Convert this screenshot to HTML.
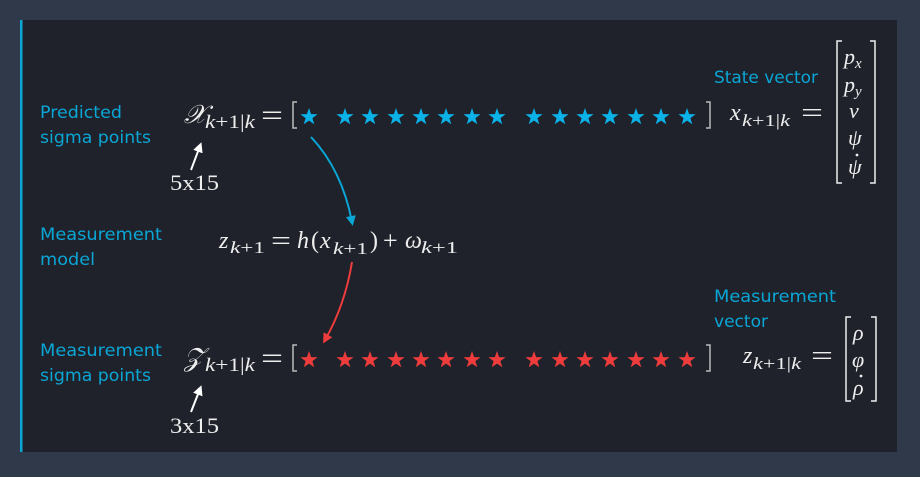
<!DOCTYPE html>
<html><head><meta charset="utf-8"><style>
html,body{margin:0;padding:0;background:#2f3949;}
svg{display:block}
.lab{font-family:"DejaVu Sans","Liberation Sans",sans-serif;fill:#0aa6d6;font-size:17px}
.m{font-family:"Liberation Serif",serif;fill:#eee;font-style:italic}
.r{font-family:"Liberation Serif",serif;fill:#eee}
</style></head><body>
<svg width="920" height="477" viewBox="0 0 920 477" xmlns="http://www.w3.org/2000/svg">
<rect x="0" y="0" width="920" height="477" fill="#2f3949"/>
<rect x="20" y="20" width="877" height="432" fill="#1f222a"/>
<rect x="20" y="20" width="2.5" height="432" fill="#0aa6d6"/>
<defs>
<polygon id="st" points="0,-9 2.1,-2.9 8.6,-2.8 3.4,1.1 5.3,7.3 0,3.6 -5.3,7.3 -3.4,1.1 -8.6,-2.8 -2.1,-2.9"/>
<marker id="ab" markerWidth="10" markerHeight="10" refX="6" refY="5" orient="auto" markerUnits="userSpaceOnUse"><path d="M0,0 L10,5 L0,10 z" fill="#0aa6d6"/></marker>
<marker id="ar" markerWidth="10" markerHeight="10" refX="6" refY="5" orient="auto" markerUnits="userSpaceOnUse"><path d="M0,0 L10,5 L0,10 z" fill="#ee3c3c"/></marker>
<marker id="aw" markerWidth="10" markerHeight="10" refX="6" refY="5" orient="auto" markerUnits="userSpaceOnUse"><path d="M0,0 L10,5 L0,10 z" fill="#fff"/></marker>
</defs>
<!-- labels -->
<text class="lab" x="40" y="118" textLength="82" lengthAdjust="spacingAndGlyphs">Predicted</text>
<text class="lab" x="40" y="143" textLength="111" lengthAdjust="spacingAndGlyphs">sigma points</text>
<text class="lab" x="40" y="240" textLength="122" lengthAdjust="spacingAndGlyphs">Measurement</text>
<text class="lab" x="40" y="265" textLength="55" lengthAdjust="spacingAndGlyphs">model</text>
<text class="lab" x="40" y="356" textLength="122" lengthAdjust="spacingAndGlyphs">Measurement</text>
<text class="lab" x="40" y="381" textLength="111" lengthAdjust="spacingAndGlyphs">sigma points</text>
<text class="lab" x="714" y="83" textLength="104" lengthAdjust="spacingAndGlyphs">State vector</text>
<text class="lab" x="714" y="302" textLength="122" lengthAdjust="spacingAndGlyphs">Measurement</text>
<text class="lab" x="714" y="327" textLength="54" lengthAdjust="spacingAndGlyphs">vector</text>
<!-- row 1 -->
<text class="m" x="184" y="123" font-size="26">𝒳</text>
<text class="m" x="205" y="128" font-size="19" textLength="50" lengthAdjust="spacingAndGlyphs">k<tspan class="r" font-style="normal">+1|</tspan>k</text>
<text class="r" x="261" y="125" font-size="30" textLength="22" lengthAdjust="spacingAndGlyphs">=</text>
<path d="M297,102 h-4 v26 h4" stroke="#bbb" stroke-width="1.5" fill="none"/>
<path d="M706,102 h4 v26 h-4" stroke="#bbb" stroke-width="1.5" fill="none"/>
<g fill="#0ab2e8">
<use href="#st" x="309" y="117"/>
<use href="#st" x="345" y="117"/><use href="#st" x="370" y="117"/><use href="#st" x="396" y="117"/><use href="#st" x="421" y="117"/><use href="#st" x="446" y="117"/><use href="#st" x="472" y="117"/><use href="#st" x="497" y="117"/>
<use href="#st" x="534" y="117"/><use href="#st" x="560" y="117"/><use href="#st" x="585" y="117"/><use href="#st" x="610" y="117"/><use href="#st" x="636" y="117"/><use href="#st" x="661" y="117"/><use href="#st" x="687" y="117"/>
</g>
<line x1="191" y1="170" x2="200" y2="146" stroke="#fff" stroke-width="2" marker-end="url(#aw)"/>
<text class="r" x="170" y="190" font-size="22" textLength="49" lengthAdjust="spacingAndGlyphs">5x15</text>
<text class="m" x="730" y="120" font-size="24">x</text>
<text class="m" x="742" y="126" font-size="17" textLength="48" lengthAdjust="spacingAndGlyphs">k<tspan class="r" font-style="normal">+1|</tspan>k</text>
<text class="r" x="801" y="122" font-size="28" textLength="22" lengthAdjust="spacingAndGlyphs">=</text>
<path d="M842,41 h-5 v142 h5" stroke="#eee" stroke-width="1.5" fill="none"/>
<path d="M870,41 h5 v142 h-5" stroke="#eee" stroke-width="1.5" fill="none"/>
<text class="m" x="844" y="64" font-size="22">p<tspan font-size="15" dy="4">x</tspan></text>
<text class="m" x="844" y="92" font-size="22">p<tspan font-size="15" dy="4">y</tspan></text>
<text class="m" x="849" y="118" font-size="22">v</text>
<text class="m" x="848" y="145" font-size="22">ψ</text>
<text class="m" x="848" y="174" font-size="22">ψ</text>
<circle cx="857" cy="155" r="1.4" fill="#eee"/>
<!-- arrows -->
<path d="M311,137 Q342,170 352,222" stroke="#0aa6d6" stroke-width="2" fill="none" marker-end="url(#ab)"/>
<!-- row 2 -->
<text class="m" x="219" y="248" font-size="24">z</text>
<text class="m" x="230" y="253" font-size="17" textLength="35" lengthAdjust="spacingAndGlyphs">k<tspan class="r" font-style="normal">+1</tspan></text>
<text class="r" x="271" y="250" font-size="28" textLength="20" lengthAdjust="spacingAndGlyphs">=</text>
<text class="m" x="297" y="248" font-size="24">h</text>
<text class="r" x="311" y="248" font-size="24">(</text>
<text class="m" x="320" y="248" font-size="24">x</text>
<text class="m" x="333" y="254" font-size="17" textLength="35" lengthAdjust="spacingAndGlyphs">k<tspan class="r" font-style="normal">+1</tspan></text>
<text class="r" x="370" y="248" font-size="24">)</text>
<text class="r" x="383" y="249" font-size="26">+</text>
<text class="m" x="405" y="248" font-size="24">ω</text>
<text class="m" x="421" y="253" font-size="17" textLength="37" lengthAdjust="spacingAndGlyphs">k<tspan class="r" font-style="normal">+1</tspan></text>
<path d="M352,262 Q345,305 325,340" stroke="#ee3c3c" stroke-width="2" fill="none" marker-end="url(#ar)"/>
<!-- row 3 -->
<text class="m" x="184" y="366" font-size="26">𝒵</text>
<text class="m" x="205" y="371" font-size="19" textLength="50" lengthAdjust="spacingAndGlyphs">k<tspan class="r" font-style="normal">+1|</tspan>k</text>
<text class="r" x="261" y="368" font-size="30" textLength="22" lengthAdjust="spacingAndGlyphs">=</text>
<path d="M297,345 h-4 v26 h4" stroke="#bbb" stroke-width="1.5" fill="none"/>
<path d="M706,345 h4 v26 h-4" stroke="#bbb" stroke-width="1.5" fill="none"/>
<g fill="#ee3c3c">
<use href="#st" x="309" y="360"/>
<use href="#st" x="345" y="360"/><use href="#st" x="370" y="360"/><use href="#st" x="396" y="360"/><use href="#st" x="421" y="360"/><use href="#st" x="446" y="360"/><use href="#st" x="472" y="360"/><use href="#st" x="497" y="360"/>
<use href="#st" x="534" y="360"/><use href="#st" x="560" y="360"/><use href="#st" x="585" y="360"/><use href="#st" x="610" y="360"/><use href="#st" x="636" y="360"/><use href="#st" x="661" y="360"/><use href="#st" x="687" y="360"/>
</g>
<line x1="191" y1="412" x2="200" y2="389" stroke="#fff" stroke-width="2" marker-end="url(#aw)"/>
<text class="r" x="170" y="433" font-size="22" textLength="49" lengthAdjust="spacingAndGlyphs">3x15</text>
<text class="m" x="743" y="363" font-size="24">z</text>
<text class="m" x="753" y="369" font-size="17" textLength="48" lengthAdjust="spacingAndGlyphs">k<tspan class="r" font-style="normal">+1|</tspan>k</text>
<text class="r" x="811" y="365" font-size="28" textLength="22" lengthAdjust="spacingAndGlyphs">=</text>
<path d="M851,317 h-5 v84 h5" stroke="#eee" stroke-width="1.5" fill="none"/>
<path d="M871,317 h5 v84 h-5" stroke="#eee" stroke-width="1.5" fill="none"/>
<text class="m" x="853" y="340" font-size="22">ρ</text>
<text class="m" x="852" y="367" font-size="22">φ</text>
<text class="m" x="853" y="395" font-size="22">ρ</text>
<circle cx="861" cy="376" r="1.4" fill="#eee"/>
</svg>
</body></html>
